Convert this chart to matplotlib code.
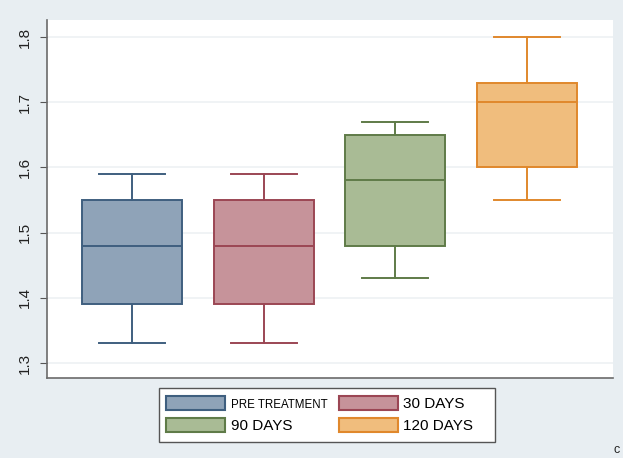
import matplotlib
matplotlib.use("Agg")
import matplotlib.pyplot as plt
from matplotlib.patches import Patch, Rectangle

plt.rcParams["font.family"] = ["Liberation Sans", "DejaVu Sans"]

# Summary statistics per group: lower whisker, Q1, median, Q3, upper whisker
groups = ["PRE TREATMENT", "30 DAYS", "90 DAYS", "120 DAYS"]
whislo = [1.33, 1.33, 1.43, 1.55]
q1 = [1.39, 1.39, 1.48, 1.60]
med = [1.48, 1.48, 1.58, 1.70]
q3 = [1.55, 1.55, 1.65, 1.73]
whishi = [1.59, 1.59, 1.67, 1.80]
yticks = [1.3, 1.4, 1.5, 1.6, 1.7, 1.8]

fills = ["#8fa3b8", "#c6939a", "#a9bb95", "#f0bd7d"]
edges = ["#3f5f7f", "#9b4654", "#5f7b48", "#e0882c"]

outer_bg = "#e8eef2"

fig = plt.figure(figsize=(6.23, 4.58), dpi=100, facecolor=outer_bg)
W, H = 623, 458
ax = fig.add_axes([47 / W, 1 - 378 / H, (613 - 47) / W, (378 - 20) / H])
ax.set_facecolor("white")

stats = []
for i, g in enumerate(groups):
    stats.append(dict(label=g, whislo=whislo[i], q1=q1[i], med=med[i],
                      q3=q3[i], whishi=whishi[i], fliers=[]))

positions = [1, 2, 3, 4]
bp = ax.bxp(stats, positions=positions, widths=0.76, patch_artist=True,
            showfliers=False, manage_ticks=False)
lw = 1.4
for i in range(len(groups)):
    bp["boxes"][i].set_facecolor(fills[i])
    bp["boxes"][i].set_edgecolor(edges[i])
    bp["boxes"][i].set_linewidth(lw)
    bp["medians"][i].set_color(edges[i])
    bp["medians"][i].set_linewidth(lw)
    for k in (2 * i, 2 * i + 1):
        bp["whiskers"][k].set_color(edges[i])
        bp["whiskers"][k].set_linewidth(lw)
        bp["caps"][k].set_color(edges[i])
        bp["caps"][k].set_linewidth(lw)
        c = positions[i]
        bp["caps"][k].set_xdata([c - 0.25, c + 0.25])

ax.set_xlim(0.354, 4.653)
ax.set_ylim(1.277, 1.826)
ax.set_yticks(yticks)
ax.set_yticklabels([f"{t:.1f}" for t in yticks], rotation=90, va="center",
                   fontsize=11, color="#222222")
ax.set_xticks([])
ax.tick_params(axis="y", length=5, color="#555555", pad=6)
ax.grid(axis="y", color="#eef1f3", linewidth=1.2)
ax.set_axisbelow(True)
for s in ("top", "right"):
    ax.spines[s].set_visible(False)
for s in ("left", "bottom"):
    ax.spines[s].set_color("#6b6b6b")
    ax.spines[s].set_linewidth(1.2)

# Legend frame drawn as a separate box so its padding can be set freely
fig.add_artist(Rectangle((159 / W, 1 - 442 / H), (495 - 159) / W, (442 - 388) / H,
                         transform=fig.transFigure, facecolor="white",
                         edgecolor="#555555", linewidth=1.0, zorder=1))

handles = [Patch(facecolor=fills[i], edgecolor=edges[i], linewidth=1.5)
           for i in range(len(groups))]
order = [0, 2, 1, 3]
leg = fig.legend([handles[i] for i in order], [groups[i] for i in order],
                 ncol=2, loc="upper left", bbox_to_anchor=(166 / W, 1 - 396 / H),
                 frameon=False, handlelength=3.85, handleheight=1.0,
                 handletextpad=0.38, columnspacing=0.75, labelspacing=0.45,
                 borderpad=0.0, borderaxespad=0.0, fontsize=11)
leg.set_zorder(2)
leg.get_texts()[0].set_fontsize(8.3)

fig.text(617 / W, 1 - 450 / H, "c", fontsize=9, ha="center", va="center",
         color="#222222")

fig.savefig("out.png", dpi=100, facecolor=outer_bg)
